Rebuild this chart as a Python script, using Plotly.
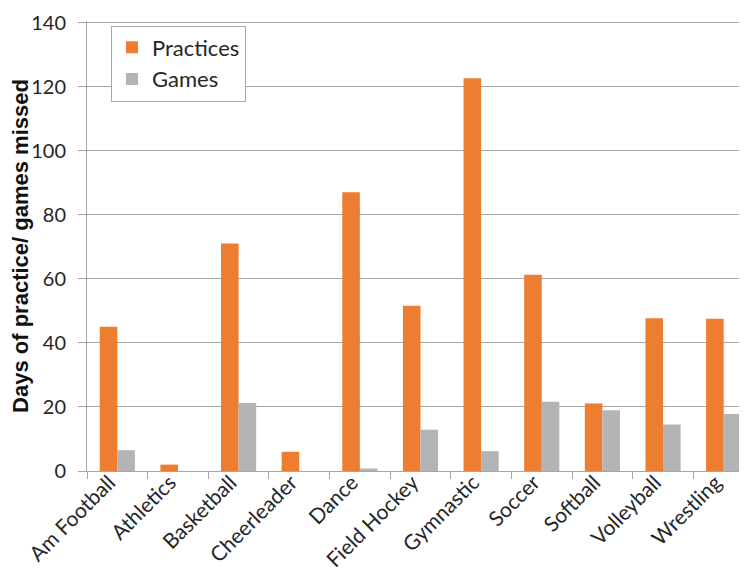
import plotly.graph_objects as go

categories = ["Am Football", "Athletics", "Basketball", "Cheerleader", "Dance",
              "Field Hockey", "Gymnastic", "Soccer", "Softball", "Volleyball", "Wrestling"]
practices = [45, 2, 71, 6, 87, 51.6, 122.6, 61.3, 21.1, 47.7, 47.5]
games = [6.5, 0, 21.2, 0, 0.8, 12.9, 6.2, 21.6, 19.0, 14.5, 17.8]
y_ticks = [0, 20, 40, 60, 80, 100, 120, 140]

FONT = "Lato"
fig = go.Figure()
fig.add_trace(go.Bar(name="Practices", x=categories, y=practices,
                     marker=dict(color="#ED7D31", line=dict(width=0))))
fig.add_trace(go.Bar(name="Games", x=categories, y=games,
                     marker=dict(color="#B3B4B6", line=dict(width=0))))

fig.update_layout(
    width=747, height=581,
    margin=dict(l=79, r=1, t=13, b=118, autoexpand=False),
    plot_bgcolor="white", paper_bgcolor="white",
    barmode="group", bargap=0.42, bargroupgap=0,
    font=dict(family=FONT, size=20, color="#262626"),
    showlegend=True,
    legend=dict(x=0.036, y=0.99, xanchor="left", yanchor="top",
                bgcolor="white", bordercolor="#A6A6A6", borderwidth=1,
                font=dict(family=FONT, size=22, color="#262626"),
                itemwidth=30, tracegroupgap=10),
)
fig.update_xaxes(
    type="category", tickson="boundaries", ticks="outside", ticklen=7,
    tickcolor="#A6A6A6", showline=True, linecolor="#A6A6A6", linewidth=1,
    tickangle=-45, tickfont=dict(family=FONT, size=21, color="#262626"),
    ticklabelshift=-8, ticklabelstandoff=-10,
    showgrid=False,
)
fig.update_yaxes(
    range=[0, 140.5], tickvals=y_ticks, ticks="outside", ticklen=8,
    tickcolor="#A6A6A6", showline=True, linecolor="#A6A6A6", linewidth=1,
    showgrid=True, gridcolor="#A6A6A6", gridwidth=1, zeroline=False,
    tickfont=dict(family=FONT, size=20, color="#262626"), ticklabelstandoff=8,
    title=dict(text="<b>Days of practice/ games missed</b>",
               font=dict(family="Liberation Sans", size=22, color="#111"),
               standoff=2),
)
fig.write_html("out.html")
